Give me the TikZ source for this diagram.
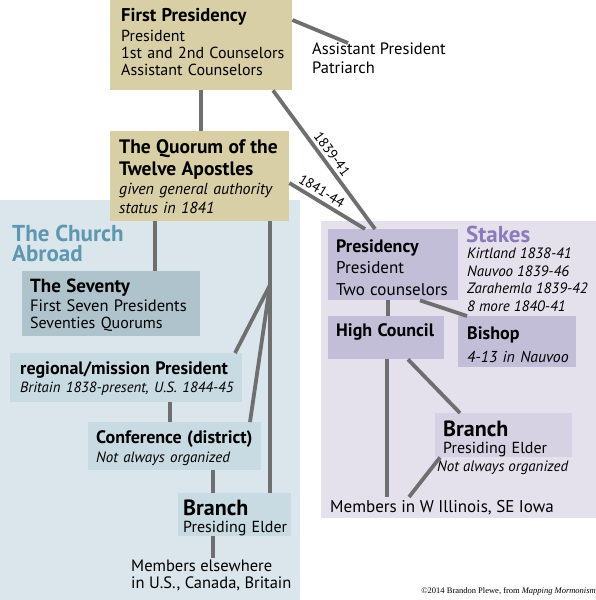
\documentclass[tikz,border=0pt]{standalone}
\usepackage{fontspec}
\setmainfont{PT Sans}
\newfontfamily\credfont{Liberation Serif}
\usetikzlibrary{calc}
\definecolor{tanbox}{HTML}{D9CFA6}
\definecolor{abroadbg}{HTML}{DAE6EC}
\definecolor{sevbox}{HTML}{AFC3CC}
\definecolor{abroadbox}{HTML}{C8DAE2}
\definecolor{stakebg}{HTML}{E4E1ED}
\definecolor{stakebox}{HTML}{C3BED8}
\definecolor{stakeboxlt}{HTML}{D6D2E4}
\definecolor{abroadtxt}{HTML}{5E97B0}
\definecolor{stakestxt}{HTML}{8A7BBA}
\definecolor{lineg}{HTML}{6F6F6F}
\tikzset{
  box/.style={anchor=north west, inner xsep=0pt, inner ysep=0pt, align=left, font=\fontsize{16}{17}\selectfont},
  plain/.style={anchor=north west, inner sep=0pt, align=left, font=\fontsize{16}{17}\selectfont},
  conn/.style={draw=lineg, line width=3.8pt},
  yearlbl/.style={sloped, above, font=\fontsize{14}{14}\selectfont, inner sep=3pt},
}
\newcommand{\ttl}[2]{{\fontsize{#1}{#1}\selectfont\bfseries #2}}
% box text: left indent, content, extra kern at the end (moves the block)
\newcommand{\bt}[3]{\leftskip=#1pt\relax\hyphenpenalty=10000\relax #2\par\kern#3pt\relax}
\begin{document}
\begin{tikzpicture}[x=1pt,y=-1pt]
\useasboundingbox (0,0) rectangle (596,600);
% background regions
\fill[abroadbg] (0,200) rectangle (300,600);
\fill[stakebg] (321,221) rectangle (596,518);

% top nodes
\node[box, fill=tanbox, text width=182pt, minimum height=90pt] (fp) at (110,0)
  {\bt{11}{\ttl{18.5}{First Presidency}\\[3pt]President\\1st and 2nd Counselors\\Assistant Counselors}{6}};
\node[plain, font=\fontsize{16.5}{19}\selectfont] (ap) at (312,43) {Assistant President\\Patriarch};
\node[box, fill=tanbox, text width=179pt, minimum height=90pt] (qt) at (110,131)
  {\bt{9}{\ttl{19.5}{The Quorum of the}\\[3pt]\ttl{19.5}{Twelve Apostles}\\[2pt]\itshape given general authority\\[2pt]\itshape status in 1841}{0}};

% Church abroad
\node[plain, font=\fontsize{23}{20}\selectfont\bfseries, text=abroadtxt] (ab) at (12,225) {The Church\\Abroad};
\node[box, fill=sevbox, text width=178pt, minimum height=65pt] (sev) at (22,271)
  {\bt{8}{\ttl{19}{The Seventy}\\[2pt]{\fontsize{16.5}{17}\selectfont First Seven Presidents}\\Seventies Quorums}{-3}};
\node[box, fill=abroadbox, text width=232pt, minimum height=49pt] (rp) at (10,353)
  {\bt{10}{\ttl{18}{regional/mission President}\\[1pt]{\fontsize{14.8}{15}\selectfont\itshape Britain 1838-present, U.S. 1844-45}}{-1}};
\node[box, fill=abroadbox, text width=173pt, minimum height=48pt] (cf) at (88,422)
  {\bt{8}{\ttl{18}{Conference (district)}\\[2pt]{\fontsize{15}{17}\selectfont\itshape Not always organized}}{-3}};
\node[box, fill=abroadbox, text width=113pt, minimum height=43pt] (br1) at (178,493)
  {\bt{5}{\ttl{22}{Branch}\\Presiding Elder}{-6}};
\node[plain, font=\fontsize{16.5}{17}\selectfont] (m1) at (131,560) {Members elsewhere\\in U.S., Canada, Britain};

% Stakes
\node[box, fill=stakebox, text width=130pt, minimum height=71pt] (sp) at (328,229)
  {\bt{8}{\ttl{18}{Presidency}\\[4pt]{\fontsize{17}{17}\selectfont President}\\[5pt]{\fontsize{17}{17}\selectfont Two counselors}}{-5}};
\node[plain, text=stakestxt, font=\fontsize{23}{20}\selectfont\bfseries] (st) at (466,226) {Stakes};
\node[plain, font=\fontsize{15}{17.5}\selectfont\itshape] (stl) at (467,248)
  {Kirtland 1838-41\\Nauvoo 1839-46\\Zarahemla 1839-42\\8 more 1840-41};
\node[box, fill=stakebox, text width=116pt, minimum height=43pt] (hc) at (328,316)
  {\bt{8}{\ttl{18}{High Council}}{11}};
\node[box, fill=stakebox, text width=118pt, minimum height=51pt] (bi) at (458,316)
  {\bt{9}{\ttl{18}{Bishop}\\[6pt]{\fontsize{15.8}{15}\selectfont\itshape 4-13 in Nauvoo}}{-5}};
\node[box, fill=stakeboxlt, text width=137pt, minimum height=44pt] (br2) at (435,413)
  {\bt{8}{\ttl{22}{Branch}\\Presiding Elder}{-7}};
\node[plain, font=\fontsize{15}{17}\selectfont\itshape] (na2) at (437,461) {Not always organized};
\node[plain, font=\fontsize{17}{17}\selectfont] (m2) at (330,500) {Members in W Illinois, SE Iowa};

% credit
\node[anchor=east, inner sep=0pt, font=\credfont\fontsize{8.5}{10}\selectfont] (cr) at (596,591)
  {©2014 Brandon Plewe, from \textit{Mapping Mormonism}};

% junction on the right-hand line of the Church Abroad
\coordinate (j) at (270,285);

% connectors
\draw[conn] ($(fp.north east)+(0,20)$) -- ($(ap.north west)+(36,0)$);
\draw[conn] (fp.south) -- (fp.south |- qt.north);
\draw[conn] ($(fp.south west)+(163,0)$) -- node[yearlbl, pos=0.5] {1839-41} ($(sp.north west)+(47,0)$);
\draw[conn] ($(qt.north east)+(0,52)$) -- node[yearlbl, pos=0.36] {1841-44} ($(sp.north west)+(37,0)$);
\draw[conn] ($(qt.south west)+(45,0)$) -- ($(sev.north west)+(133,0)$);
\draw[conn] ($(qt.south west)+(160,0)$) -- ($(br1.north west)+(92,0)$);
\draw[conn] (j) -- ($(rp.north west)+(225,0)$);
\draw[conn] (j) -- ($(cf.north west)+(162,0)$);
\draw[conn] ($(rp.south west)+(160,0)$) -- ($(cf.north west)+(82,0)$);
\draw[conn] ($(cf.south west)+(125,0)$) -- ($(br1.north west)+(35,0)$);
\draw[conn] ($(br1.south west)+(35,0)$) -- ($(m1.north west)+(82,-2)$);
\draw[conn] ($(sp.south west)+(60,0)$) -- ($(hc.north west)+(60,0)$);
\draw[conn] ($(sp.south west)+(92,0)$) -- ($(bi.north west)+(9,0)$);
\draw[conn] ($(hc.south west)+(59,0)$) -- ($(m2.north west)+(57,-3)$);
\draw[conn] ($(hc.south west)+(80,0)$) -- ($(br2.north west)+(25,0)$);
\draw[conn] ($(br2.south west)+(5,0)$) -- ($(m2.north west)+(79,-3)$);
\end{tikzpicture}
\end{document}
